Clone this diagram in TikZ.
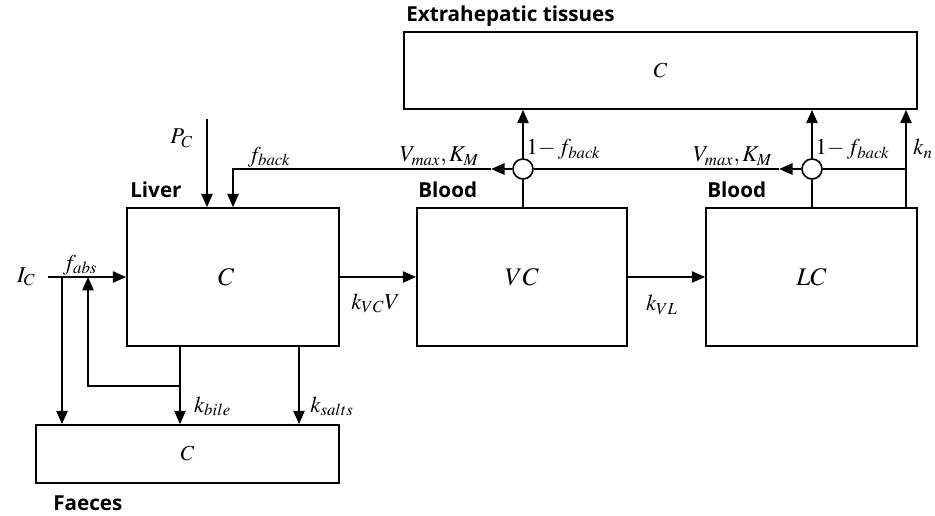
\documentclass[tikz,border=0pt]{standalone}
\usepackage{mathptmx}
\usepackage[no-math]{fontspec}
\newfontfamily\headfont{Open Sans}
\usetikzlibrary{arrows.meta,positioning,calc}

\begin{document}
\begin{tikzpicture}[x=0.75pt,y=-0.75pt]

\tikzset{
  compart/.style={draw=black, line width=1.3pt, fill=white, inner sep=0pt,
                  font=\fontsize{19}{22}\selectfont},
  boxsize/.style 2 args={minimum width=#1*0.75pt, minimum height=#2*0.75pt},
  title/.style={font=\headfont\bfseries\fontsize{15.5}{18}\selectfont, inner sep=0pt},
  rate/.style={font=\fontsize{17}{20}\selectfont, inner sep=1pt},
  junction/.style={circle, draw=black, line width=1.2pt, fill=white,
                  minimum size=15pt, inner sep=0pt},
  link/.style={black, line width=1.2pt},
  flow/.style={black, line width=1.2pt, -{Triangle[length=10pt, width=8.5pt]}}
}

\useasboundingbox (0,0) rectangle (935,516);

% Compartments
\node[compart, boxsize={513}{77}, font=\fontsize{16}{19}\selectfont] (tissue) at (660.5,70.5) {$C$};
\node[compart, boxsize={212}{138}] (liver)  at (233,277)   {$C$\hspace*{10pt}};
\node[compart, boxsize={210}{138}] (bloodv) at (522,277)   {$VC$};
\node[compart, boxsize={211}{138}] (bloodl) at (811.5,277) {$LC$};
\node[compart, boxsize={303}{58}, font=\fontsize{16}{19}\selectfont] (faeces) at (187.5,454) {$C$};

% Titles
\node[title, anchor=base west] (tissuetitle) at (406,22)  {Extrahepatic tissues};
\node[title, anchor=base west] (livertitle)  at (130,198) {Liver};
\node[title, anchor=base west] (bloodvtitle) at (418,198) {Blood};
\node[title, anchor=base west] (bloodltitle) at (707,198) {Blood};
\node[title, anchor=base west] (faecestitle) at (53,510)  {Faeces};

% Junctions
\node[junction] (jv) at (523,169) {};
\node[junction] (jl) at (812,169) {};

% Points
\coordinate (inlet) at (48,277);
\coordinate (split) at (62,277);
\coordinate (bile)  at (180,386);
\coordinate (reab)  at (88,386);
\coordinate (salts) at (299,386);
\coordinate (pin)   at (207,119);
\coordinate (back)  at (233,169);
\coordinate (kn)    at (906,169);
\coordinate (tipv) at ($(jv.west)+(-21,0)$);
\coordinate (tipl) at ($(jl.west)+(-22,0)$);

% Intake and liver
\node[rate, anchor=east] (ic) at (37,277) {$I_C$};
\draw[flow] (inlet) -- (liver.west) node[rate, above, pos=0.41] (fabs) {$f_{abs}$};
\draw[flow] (split) -- (split |- faeces.north);
\draw[flow] (pin) -- (pin |- liver.north) node[rate, left=9pt, pos=0.22] (pc) {$P_C$};
\draw[flow] (bile |- liver.south) -- (bile |- faeces.north)
  node[rate, right=9pt, pos=0.77] (kbile) {$k_{bile}$};
\draw[flow] (bile) -- (reab) -- (reab |- inlet);
\draw[flow] (salts |- liver.south) -- (salts |- faeces.north)
  node[rate, right=7pt, pos=0.77] (ksalts) {$k_{salts}$};

% Blood flows
\draw[flow] (liver.east) -- (bloodv.west) node[rate, below=11pt, pos=0.47] (kvc) {$k_{VC}V$};
\draw[flow] (bloodv.east) -- (bloodl.west) node[rate, below=12pt, pos=0.44] (kvl) {$k_{VL}$};

% Return to liver
\draw[flow] (jv.west) -- (tipv);
\draw[flow] (tipv) -- (back) node[rate, above, pos=0.86] (fback) {$f_{back}$} -- (back |- liver.north);
\node[rate, above left=1pt and 8pt of tipv] (vmv) {$V_{max}, K_M$};
\draw[link] (bloodv.north -| jv) -- (jv.south);
\draw[flow] (jv.north) -- (jv |- tissue.south);
\node[rate, anchor=south west] (fbv) at ($(jv.north)+(2,3)$) {$1{-}\,f_{back}$};

% Second blood compartment
\draw[flow] (jl.west) -- (tipl);
\draw[link] (tipl) -- (jv.east);
\node[rate, above left=1pt and 4pt of tipl] (vml) {$V_{max}, K_M$};
\draw[link] (bloodl.north -| jl) -- (jl.south);
\draw[flow] (jl.north) -- (jl |- tissue.south);
\node[rate, anchor=south west] (fbl) at ($(jl.north)+(2,3)$) {$1{-}\,f_{back}$};
\draw[link] (jl.east) -- (kn);
\draw[flow] (kn |- bloodl.north) -- (kn |- tissue.south)
  node[rate, right=4pt, pos=0.6] (knlabel) {$k_n$};

\end{tikzpicture}
\end{document}
